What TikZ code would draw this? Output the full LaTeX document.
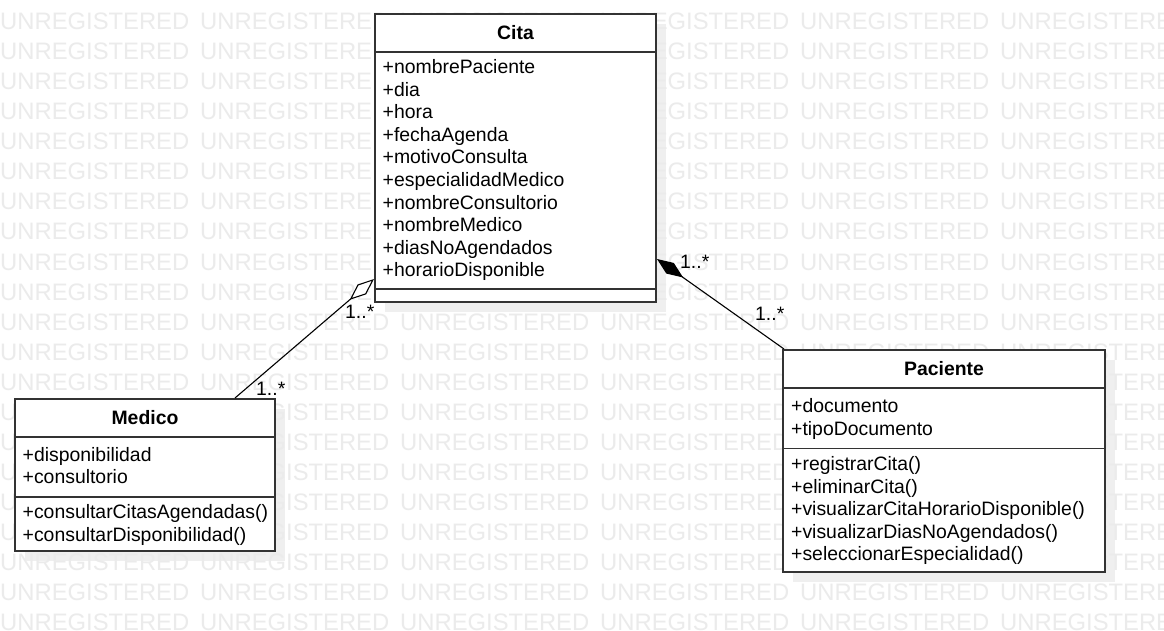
\documentclass[tikz,border=0pt]{standalone}
\usepackage{fontspec}
\setmainfont{Liberation Sans}
\usetikzlibrary{arrows.meta,calc}
\definecolor{wm}{HTML}{EBEBEB}
\definecolor{shadowc}{HTML}{EFEFEF}
\definecolor{edge}{HTML}{333333}
\begin{document}
\begin{tikzpicture}[x=1pt,y=-1pt,
  box/.style={draw=edge, line width=1.6pt, fill=white, inner sep=0pt, outer sep=0pt, anchor=north west},
  shadowbox/.style={fill=shadowc, draw=none, inner sep=0pt, outer sep=0pt, anchor=north west},
  txt/.style={anchor=base west, inner sep=0pt, font=\fontsize{19.4}{22}\selectfont, text=black},
  ttl/.style={anchor=base, inner sep=0pt, font=\fontsize{19.4}{22}\selectfont\bfseries, text=black},
  mult/.style={anchor=base west, inner sep=0pt, font=\fontsize{19.4}{22}\selectfont, text=black},
  wmtext/.style={anchor=base west, inner sep=0pt, font=\fontsize{23.8}{24}\selectfont, text=wm},
  sep/.style={draw=edge, line width=1.3pt},
  assoc/.style={draw=black, line width=1.1pt}
]
\useasboundingbox (0,0) rectangle (1164,631);
\fill[white] (0,0) rectangle (1164,631);

% shadows
\node[shadowbox, minimum width=281pt, minimum height=288pt] (citashadow) at (385,24) {};
\node[shadowbox, minimum width=260pt, minimum height=152pt] (medicoshadow) at (25,409) {};
\node[shadowbox, minimum width=322pt, minimum height=222pt] (pacienteshadow) at (793,360) {};

% watermark
\begin{scope}
\clip (0,0) rectangle (1164,631);
\foreach \r in {0,...,20}{
  \foreach \c in {0,...,5}{
    \node[wmtext] (wm-\r-\c) at (200*\c, 30+30*\r) {UNREGISTERED};
  }
}
\end{scope}

% boxes
\node[box, minimum width=281pt, minimum height=288pt] (cita) at (375,14) {};
\node[box, minimum width=260pt, minimum height=152pt] (medico) at (15,399) {};
\node[box, minimum width=322pt, minimum height=222pt] (paciente) at (783,350) {};

% compartments
\draw[sep] ($(cita.north west)+(0,38)$) -- ($(cita.north east)+(0,38)$);
\draw[sep] ($(cita.north west)+(0,275)$) -- ($(cita.north east)+(0,275)$);
\draw[sep] ($(medico.north west)+(0,38)$) -- ($(medico.north east)+(0,38)$);
\draw[sep] ($(medico.north west)+(0,98)$) -- ($(medico.north east)+(0,98)$);
\draw[sep] ($(paciente.north west)+(0,38)$) -- ($(paciente.north east)+(0,38)$);
\draw[sep] ($(paciente.north west)+(0,98.5)$) -- ($(paciente.north east)+(0,98.5)$);

% titles
\node[ttl] (citatitle) at (515.5,39.3) {Cita};
\node[ttl] (medicotitle) at (145,424) {Medico};
\node[ttl] (pacientetitle) at (944,375.7) {Paciente};

% Cita attributes
\foreach \t [count=\i from 0] in {+nombrePaciente,+dia,+hora,+fechaAgenda,+motivoConsulta,+especialidadMedico,+nombreConsultorio,+nombreMedico,+diasNoAgendados,+horarioDisponible}{
  \node[txt] (cita-a\i) at (382.5, 74+22.5*\i) {\t};
}

% Medico
\node[txt] (medico-a0) at (22.5,461) {+disponibilidad};
\node[txt] (medico-a1) at (22.5,483.5) {+consultorio};
\node[txt] (medico-m0) at (22.5,518.5) {+consultarCitasAgendadas()};
\node[txt] (medico-m1) at (22.5,541) {+consultarDisponibilidad()};

% Paciente
\node[txt] (paciente-a0) at (791,412.7) {+documento};
\node[txt] (paciente-a1) at (791,435.2) {+tipoDocumento};
\foreach \t [count=\i from 0] in {+registrarCita(),+eliminarCita(),+visualizarCitaHorarioDisponible(),+visualizarDiasNoAgendados(),+seleccionarEspecialidad()}{
  \node[txt] (paciente-m\i) at (791, 470.7+22.5*\i) {\t};
}

% connectors
\coordinate (aggend) at ($(cita.north west)+(-1,265)$);
\coordinate (medstart) at ($(medico.north west)+(220,-1)$);
\draw[assoc, -{Diamond[open, fill=white, length=32pt, width=13pt]}] (medstart) -- (aggend);

\coordinate (compend) at ($(cita.north east)+(1,245)$);
\coordinate (pacstart) at ($(paciente.north west)+(1,-1)$);
\draw[assoc, -{Diamond[length=32pt, width=13pt]}] (pacstart) -- (compend);

% multiplicities
\node[mult] (m1) at (345,318) {1..*};
\node[mult] (m2) at (256,395) {1..*};
\node[mult] (m3) at (680,268) {1..*};
\node[mult] (m4) at (755,320) {1..*};
\end{tikzpicture}
\end{document}
